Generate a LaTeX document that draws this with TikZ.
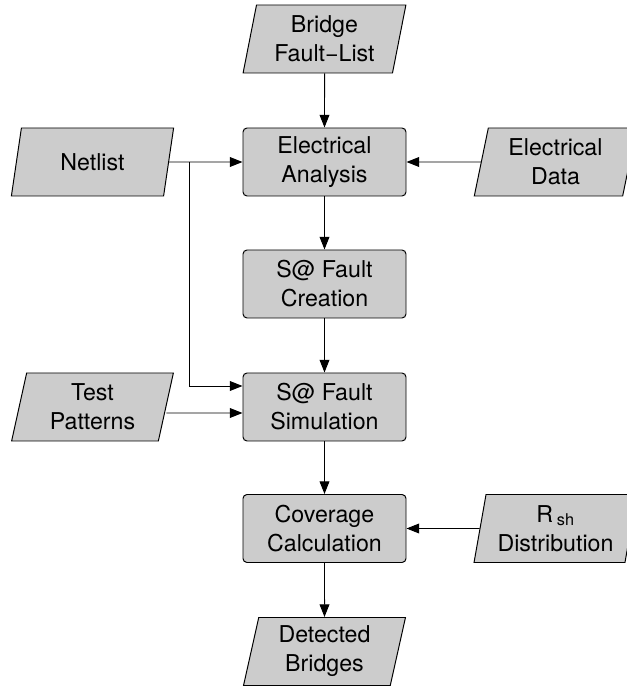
\documentclass[tikz,border=0pt]{standalone}
\usepackage{fontspec}
\setmainfont{TeX Gyre Heros}
\usetikzlibrary{shapes.geometric,arrows.meta}

\definecolor{boxgray}{gray}{0.8}
\tikzset{
  procbox/.style={draw, fill=boxgray, rounded corners=0.1cm, line width=0.7pt,
    minimum width=4.075cm, minimum height=1.7cm, align=center,
    font=\fontsize{16.5}{20.6}\selectfont},
  iobox/.style={draw, fill=boxgray, line width=0.7pt, trapezium,
    trapezium left angle=79, trapezium right angle=101, trapezium stretches=true,
    minimum width=4.075cm, minimum height=1.7cm, align=center,
    font=\fontsize{16.5}{20.6}\selectfont},
  flow/.style={-{Triangle[length=9pt,width=7pt]}, line width=0.7pt}
}

\begin{document}
\begin{tikzpicture}
\useasboundingbox (0,0) rectangle (15.675,17.25);

% main column
\node[iobox] (bridge) at (8.1125,16.275) {Bridge\\Fault−List};
\node[procbox] (elec) at (8.1125,13.2) {Electrical\\Analysis};
\node[procbox] (create) at (8.1125,10.15) {S@ Fault\\Creation};
\node[procbox] (sim) at (8.1125,7.075) {S@ Fault\\Simulation};
\node[procbox] (cover) at (8.1125,4.0375) {Coverage\\Calculation};
\node[iobox] (detect) at (8.1125,0.9625) {Detected\\Bridges};

% inputs
\node[iobox] (netlist) at (2.3125,13.2) {Netlist};
\node[iobox] (patterns) at (2.3125,7.075) {Test\\Patterns};
\node[iobox] (edata) at (13.8875,13.2) {Electrical\\Data};
\node[iobox] (rsh) at (13.8875,4.0375) {R\,\textsubscript{sh}\\Distribution};

\coordinate (split) at (4.725,13.2);

\draw[flow] (bridge) -- (elec);
\draw[flow] (elec) -- (create);
\draw[flow] (create) -- (sim);
\draw[flow] (sim) -- (cover);
\draw[flow] (cover) -- (detect);

\draw[flow] (netlist.east) -- (elec.west);
\draw[flow] (split) |- ([yshift=0.525cm]sim.west);
\draw[flow] ([yshift=-0.15cm]patterns.east) -- ([yshift=-0.15cm]sim.west);
\draw[flow] (edata.west) -- (elec.east);
\draw[flow] (rsh.west) -- (cover.east);
\end{tikzpicture}
\end{document}
